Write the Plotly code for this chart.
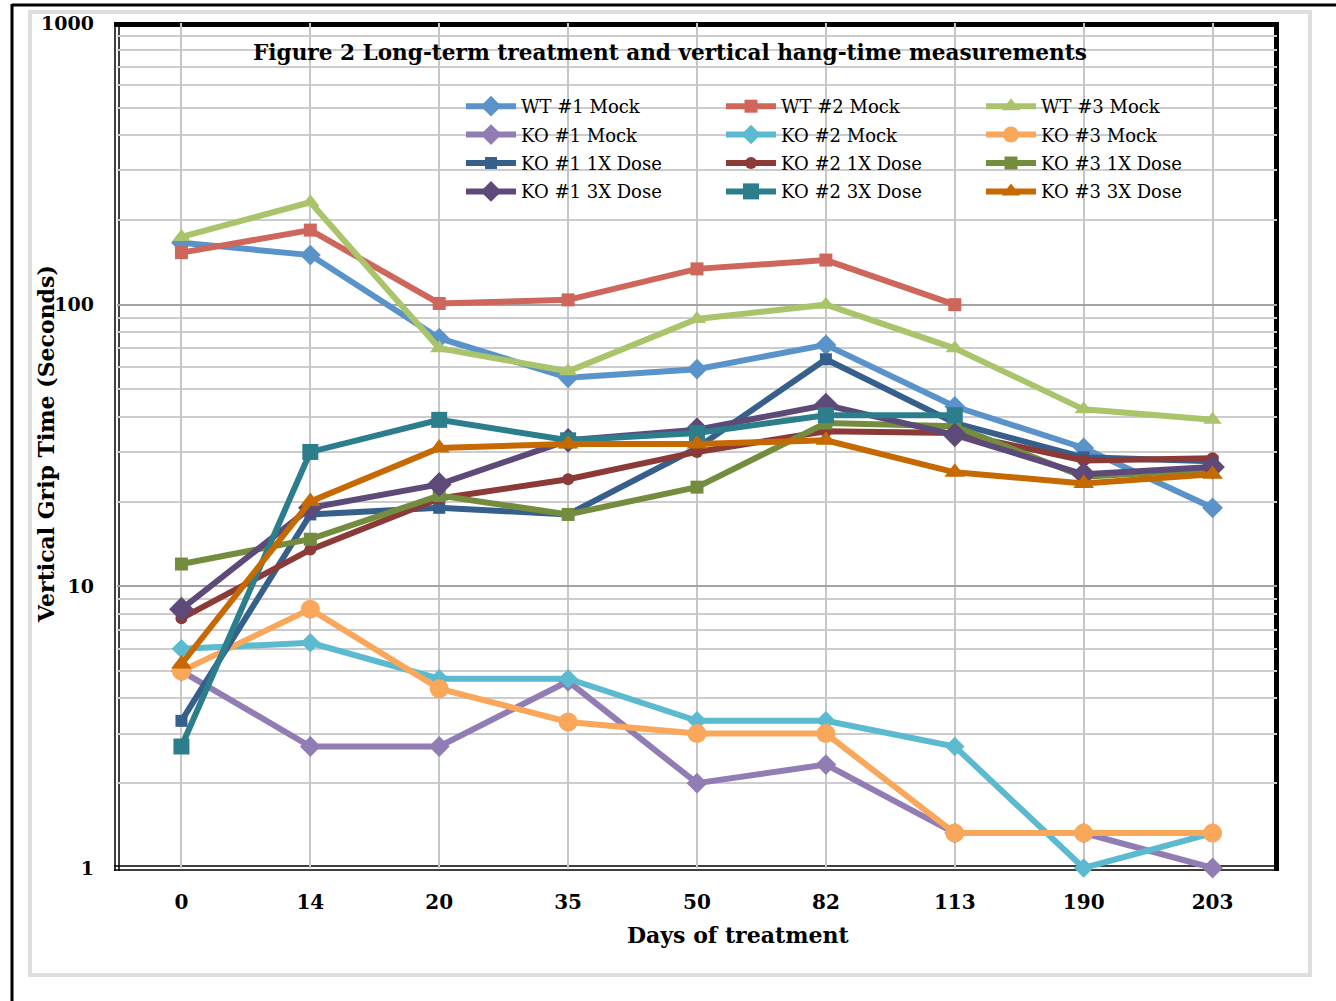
import plotly.graph_objects as go

# ---------------- data ----------------
days = ["0", "14", "20", "35", "50", "82", "113", "190", "203"]

wt1_mock = [166, 150, 76, 55, 59, 72, 43.5, 31, 19]
wt2_mock = [153, 184, 101, 104, 134, 144, 100, None, None]
wt3_mock = [174, 231, 70, 58, 89, 100, 70, 42.5, 39]
ko1_mock = [5, 2.7, 2.7, 4.6, 2.0, 2.33, 1.33, 1.33, 1.0]
ko2_mock = [6, 6.3, 4.7, 4.7, 3.33, 3.33, 2.7, 1.0, 1.33]
ko3_mock = [5, 8.3, 4.33, 3.3, 3.0, 3.0, 1.33, 1.33, 1.33]
ko1_1x = [3.33, 18, 19, 18, 31, 64, 38, 28.7, 27.8]
ko2_1x = [7.7, 13.5, 20.5, 24, 30, 35.5, 35, 28, 28.5]
ko3_1x = [12, 14.7, 21, 18, 22.5, 38, 37, 24.5, 26]
ko1_3x = [8.3, 19, 23, 33, 36, 44, 34.5, 25, 26.5]
ko2_3x = [2.7, 30, 39, 33, 35, 40.5, 40.5, None, None]
ko3_3x = [5.3, 20, 31, 32, 32, 33, 25.4, 23.2, 25]

series_names = ["WT #1 Mock", "WT #2 Mock", "WT #3 Mock",
                "KO #1 Mock", "KO #2 Mock", "KO #3 Mock",
                "KO #1 1X Dose", "KO #2 1X Dose", "KO #3 1X Dose",
                "KO #1 3X Dose", "KO #2 3X Dose", "KO #3 3X Dose"]
series_values = [wt1_mock, wt2_mock, wt3_mock,
                 ko1_mock, ko2_mock, ko3_mock,
                 ko1_1x, ko2_1x, ko3_1x,
                 ko1_3x, ko2_3x, ko3_3x]
y_tick_vals = [1, 10, 100, 1000]
y_tick_text = ["1", "10", "100", "1000"]

# ---------------- styles ----------------
colors = ["#5A93C9", "#CF665B", "#A9C46A",
          "#917CB4", "#5BBAD0", "#F9A75B",
          "#375F8C", "#8B3A37", "#748C3E",
          "#5E4A78", "#2C7E8C", "#C66900"]
symbols = ["diamond", "square", "triangle-up",
           "diamond", "diamond", "circle",
           "square", "circle", "square",
           "diamond", "square", "triangle-up"]
msizes = [16, 13, 16, 16, 15, 19, 12, 12, 13, 19, 16, 18]
legend_ids = ["legend", "legend2", "legend3"]

W, H = 1336, 1001
ML, MR, MT, MB = 117, 59, 23, 133
PW, PH = W - ML - MR, H - MT - MB


def px2x(px):
    return (px - ML) / PW


def px2y(py):
    return (H - MB - py) / PH


fig = go.Figure()
for i, (name, vals) in enumerate(zip(series_names, series_values)):
    fig.add_trace(go.Scatter(
        x=days, y=vals, name=name, mode="lines+markers",
        line=dict(color=colors[i], width=6),
        marker=dict(symbol=symbols[i], size=msizes[i], color=colors[i]),
        cliponaxis=False,
        legend=legend_ids[i % 3],
        legendgroup=name,
    ))

serif = "DejaVu Serif"
legend_common = dict(
    bgcolor="rgba(0,0,0,0)", borderwidth=0,
    font=dict(family=serif, size=18, color="#000000"),
    orientation="v", xanchor="left", yanchor="top",
    tracegroupgap=2, itemwidth=50,
)
leg_y = px2y(88)
fig.update_layout(
    legend=dict(x=px2x(461), y=leg_y, **legend_common),
    legend2=dict(x=px2x(721), y=leg_y, **legend_common),
    legend3=dict(x=px2x(981), y=leg_y, **legend_common),
)

fig.update_xaxes(
    type="category", range=[-0.5, len(days) - 0.5],
    showgrid=True, gridcolor="#c6c6c6", gridwidth=2,
    showline=False, zeroline=False, ticks="",
    tickfont=dict(family=serif, size=20, color="#000000", weight="bold"),
    ticklabelstandoff=20,
)
fig.update_yaxes(
    type="log", range=[0, 3],
    tickmode="array", tickvals=y_tick_vals, ticktext=y_tick_text,
    showgrid=True, gridcolor="#a3a3a3", gridwidth=2,
    minor=dict(tickmode="linear", dtick="D1", showgrid=True,
               gridcolor="#cccccc", gridwidth=2, ticks=""),
    showline=False, zeroline=False, ticks="",
    tickfont=dict(family=serif, size=19, color="#000000", weight="bold"),
    ticklabelstandoff=22,
)

shapes = []
# page border (black, top & left)
shapes.append(dict(type="line", xref="paper", yref="paper",
                   x0=px2x(12), x1=px2x(1340), y0=px2y(5), y1=px2y(5),
                   line=dict(color="#000000", width=3), layer="below"))
shapes.append(dict(type="line", xref="paper", yref="paper",
                   x0=px2x(12), x1=px2x(12), y0=px2y(4), y1=px2y(1005),
                   line=dict(color="#000000", width=3), layer="below"))
# light gray chart border
shapes.append(dict(type="rect", xref="paper", yref="paper",
                   x0=px2x(30), x1=px2x(1310), y0=px2y(12), y1=px2y(975),
                   line=dict(color="#dedede", width=4), layer="below"))
# plot frame: thick top/right, double left/bottom
shapes.append(dict(type="line", xref="paper", yref="paper",
                   x0=px2x(114), x1=px2x(1279), y0=px2y(24.5), y1=px2y(24.5),
                   line=dict(color="#000000", width=5), layer="below"))
shapes.append(dict(type="line", xref="paper", yref="paper",
                   x0=px2x(1276.5), x1=px2x(1276.5), y0=px2y(22), y1=px2y(871),
                   line=dict(color="#000000", width=5), layer="below"))
for xx in (115, 119):
    shapes.append(dict(type="line", xref="paper", yref="paper",
                       x0=px2x(xx), x1=px2x(xx), y0=px2y(24), y1=px2y(871),
                       line=dict(color="#000000", width=1.5), layer="below"))
for yy in (866, 870):
    shapes.append(dict(type="line", xref="paper", yref="paper",
                       x0=px2x(114), x1=px2x(1279), y0=px2y(yy), y1=px2y(yy),
                       line=dict(color="#000000", width=1.5), layer="below"))

annotations = [
    dict(text="<b>Figure 2 Long-term treatment and vertical hang-time measurements</b>",
         xref="paper", yref="paper", x=px2x(670), y=px2y(53),
         xanchor="center", yanchor="middle", showarrow=False,
         font=dict(family=serif, size=21.6, color="#000000")),
    dict(text="<b>Days of treatment</b>",
         xref="paper", yref="paper", x=px2x(738), y=px2y(935),
         xanchor="center", yanchor="middle", showarrow=False,
         font=dict(family=serif, size=22, color="#000000")),
    dict(text="<b>Vertical Grip Time (Seconds)</b>",
         xref="paper", yref="paper", x=px2x(46), y=px2y(444),
         xanchor="center", yanchor="middle", showarrow=False, textangle=-90,
         font=dict(family=serif, size=22, color="#000000")),
]

fig.update_layout(
    width=W, height=H,
    margin=dict(l=ML, r=MR, t=MT, b=MB, pad=0),
    paper_bgcolor="#ffffff", plot_bgcolor="rgba(0,0,0,0)",
    shapes=shapes, annotations=annotations,
    showlegend=True,
)

fig.write_html("out.html",
               config={"displayModeBar": False},
               post_script="document.body.style.margin='0px';")
